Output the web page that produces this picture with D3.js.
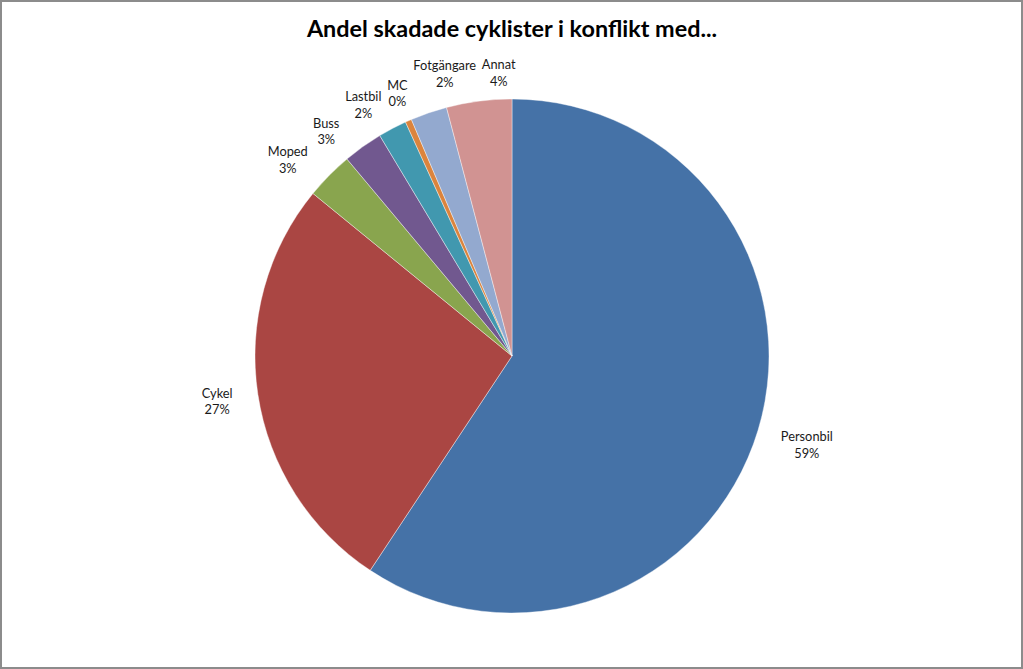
<!DOCTYPE html>
<html><head><meta charset="utf-8">
<script src="https://cdn.jsdelivr.net/npm/d3@7"></script>
<style>html,body{margin:0;padding:0;background:#fff;overflow:hidden}</style>
</head><body><svg id="c" width="1023" height="669"></svg>
<script>
const categories = ["Personbil","Cykel","Moped","Buss","Lastbil","MC","Fotgängare","Annat"];
const values = [59.3, 26.6, 3.0, 2.5, 1.8, 0.4, 2.3, 4.1];
const colors = ["#4572A7","#AA4643","#89A54E","#71588F","#4198AF","#DB843D","#93A9CF","#D19392"];
const title = "Andel skadade cyklister i konflikt med...";

const W = 1023, H = 669, cx = 512, cy = 356, r = 257;
const svg = d3.select("#c");
svg.append("rect").attr("x",1).attr("y",1).attr("width",W-2).attr("height",H-2)
  .attr("fill","#fff").attr("stroke","#8c8c8c").attr("stroke-width",2);

svg.append("text").attr("x",cx).attr("y",37).attr("text-anchor","middle")
  .attr("font-family","Lato, 'Open Sans', sans-serif").attr("font-weight","bold")
  .attr("font-size",23.4).attr("fill","#000").text(title);

const data = categories.map((c,i)=>({name:c,value:values[i],color:colors[i]}));
const total = d3.sum(values);
const pie = d3.pie().value(d=>d.value).sort(null);
const arcs = pie(data);
const arc = d3.arc().innerRadius(0).outerRadius(r);
const g = svg.append("g").attr("transform",`translate(${cx},${cy})`);
g.selectAll("path").data(arcs).join("path").attr("d",arc)
  .attr("fill",d=>d.data.color).attr("stroke","#fff").attr("stroke-width",0.4);

// labels
const labs = [];
const lg = g.selectAll("g.lab").data(arcs).join("g").attr("class","lab");
lg.each(function(d){
  const sel = d3.select(this);
  const t = sel.append("text").attr("text-anchor","middle")
    .attr("font-family","Lato, 'Open Sans', sans-serif").attr("font-size",12.8).attr("fill","#1a1a1a");
  t.append("tspan").attr("x",0).attr("dy","-0.25em").text(d.data.name);
  t.append("tspan").attr("x",0).attr("dy","1.28em").text(Math.round(d.data.value/total*100)+"%");
  const bb = t.node().getBBox();
  labs.push({sel, bb, a:(d.startAngle+d.endAngle)/2});
});
function place(L){
  const s = Math.sin(L.a), c = Math.cos(L.a);
  const dist = r + 26 + L.bb.width/2*Math.abs(s);
  L.x = dist*s; L.y = -dist*c;
}
function overlap(A,B){
  const p = 5;
  return Math.abs(A.x-B.x) < (A.bb.width+B.bb.width)/2 + p &&
         Math.abs(A.y-B.y) < (A.bb.height+B.bb.height)/2 + p;
}
labs.forEach(place);
const step = 0.002;
for(let it=0; it<3000; it++){
  let moved = false;
  for(let i=0;i<labs.length-1;i++){
    const A = labs[i], B = labs[i+1];
    if(overlap(A,B)){ A.a -= step; B.a += step; place(A); place(B); moved = true; }
  }
  if(!moved) break;
}
labs.forEach(L=>{
  L.sel.attr("transform",`translate(${L.x},${L.y - (L.bb.y + L.bb.height/2)})`);
});
</script></body></html>
